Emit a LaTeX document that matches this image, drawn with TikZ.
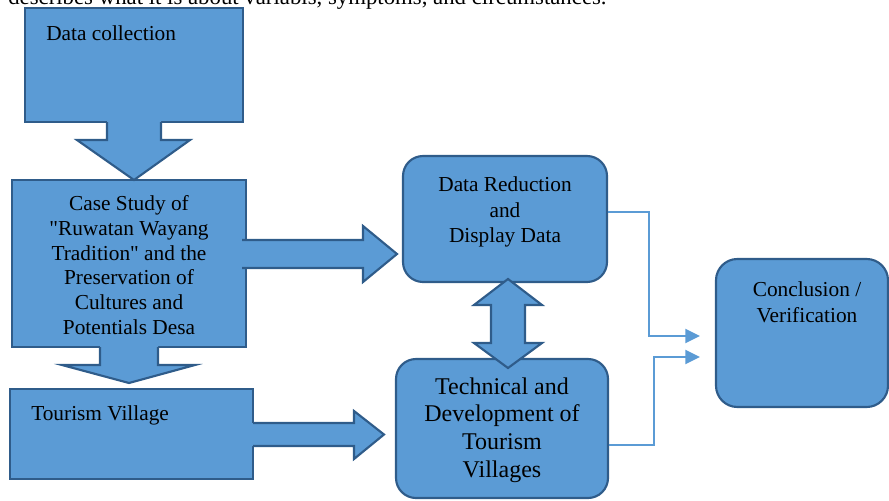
\documentclass[tikz,border=0pt]{standalone}
\usepackage{fontspec}
\setmainfont{Liberation Serif}
\usetikzlibrary{calc,arrows.meta}
\definecolor{boxfill}{HTML}{5B9BD5}
\definecolor{boxline}{HTML}{2F5C8A}
\tikzset{
  box/.style={draw=boxline, fill=boxfill, line width=1.6pt, inner sep=0pt},
  roundbox/.style={box, rounded corners=15pt},
  blocktip/.style={fill=boxfill},
  blockedge/.style={draw=boxline, line width=1.6pt, line join=miter},
  link/.style={draw=boxfill, line width=1.6pt, -{Triangle[length=11pt,width=10.5pt]}},
  txt/.style={inner sep=0pt, align=center, font=\fontsize{16}{18.6}\selectfont}
}
\begin{document}
\begin{tikzpicture}[x=0.75pt,y=-0.75pt]
  %%%%% START %%%%%
  \useasboundingbox (0,0) rectangle (889,500);
  \clip (0,0) rectangle (889,500);

  % last line of the running text above
  \node[anchor=base west, inner sep=0pt, font=\fontsize{17.1}{18}\selectfont] (intro) at (8,4)
    {describes what it is about variabls, symptoms, and circumstances.};

  % left column
  \node[box, minimum width=163.5pt, minimum height=85.5pt] (dc) at (134,65) {};
  \node[txt, anchor=west] (dctext) at (46,33) {Data collection};

  \node[box, minimum width=175.5pt, minimum height=125.25pt] (cs) at (129,263.5) {};
  \node[txt] (cstext) at (129,265)
    {Case Study of\\\textquotedbl Ruwatan Wayang\\Tradition\textquotedbl{} and the\\Preservation of\\Cultures and\\Potentials Desa};

  \node[box, minimum width=182.25pt, minimum height=67.5pt] (tv) at (131.5,434) {};
  \node[txt, anchor=west] (tvtext) at (31,415.5) {Tourism Village};

  % middle column
  \node[roundbox, minimum width=153pt, minimum height=94.5pt] (red) at (505,219) {};
  \node[txt, font=\fontsize{16}{18.9}\selectfont] (redtext) at (505,212) {Data Reduction\\and\\Display Data};

  \node[roundbox, minimum width=159pt, minimum height=104.25pt] (tech) at (502,428.5) {};
  \node[txt, font=\fontsize{18}{20.8}\selectfont] (techtext) at (502,430)
    {Technical and\\Development of\\Tourism\\Villages};

  % right column
  \node[roundbox, rounded corners=16pt, minimum width=129pt, minimum height=111pt] (concl) at (802,333) {};
  \node[txt, anchor=north, font=\fontsize{16}{19.5}\selectfont] (concltext) at (807,281) {Conclusion /\\Verification};

  % fat arrows
  \fill[blocktip] (107,119) -- (107,140) -- (77,140) -- (134,180) -- (190,140) -- (161,140) -- (161,119) -- cycle;
  \draw[blockedge] (107,122) -- (107,140) -- (77,140) -- (134,180) -- (190,140) -- (161,140) -- (161,122);

  \fill[blocktip] (100,344) -- (100,365) -- (62,365) -- (129,383) -- (195,365) -- (158,365) -- (158,344) -- cycle;
  \draw[blockedge] (100,347) -- (100,365) -- (62,365) -- (129,383) -- (195,365) -- (158,365) -- (158,347);

  \fill[blocktip] (242,240) -- (363,240) -- (363,226) -- (397,254) -- (363,282) -- (363,268) -- (242,268) -- cycle;
  \draw[blockedge] (242,240) -- (363,240) -- (363,226) -- (397,254) -- (363,282) -- (363,268) -- (242,268);

  \fill[blocktip] (250,423) -- (354,423) -- (354,411) -- (384,434.5) -- (354,459) -- (354,446) -- (250,446) -- cycle;
  \draw[blockedge] (253,423) -- (354,423) -- (354,411) -- (384,434.5) -- (354,459) -- (354,446) -- (253,446);

  \filldraw[blocktip, blockedge] (508,279) -- (542,305) -- (525,305) -- (525,343) -- (542,343) -- (508,368)
    -- (474,343) -- (491,343) -- (491,305) -- (474,305) -- cycle;

  % thin links into the conclusion
  \coordinate (cin1) at ($(concl.west)+(-15,3)$);
  \coordinate (cin2) at ($(concl.west)+(-15,24)$);
  \draw[link] ($(red.east)+(0,-7)$) -| ($(cin1)+(-51,0)$) -- (cin1);
  \draw[link] ($(tech.east)+(0,16.5)$) -| ($(cin2)+(-46,0)$) -- (cin2);
  %%%%% END %%%%%
\end{tikzpicture}
\end{document}
